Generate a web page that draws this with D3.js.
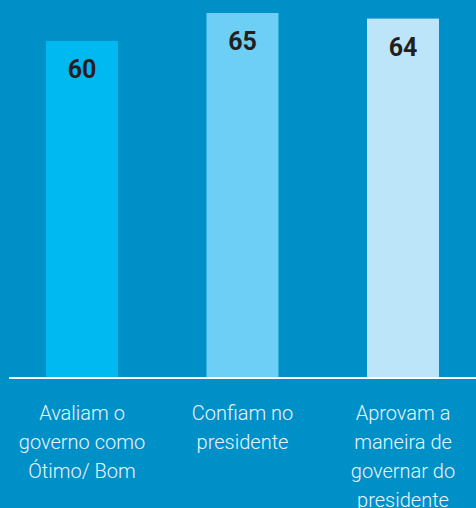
<!DOCTYPE html>
<meta charset="utf-8">
<html>
<head>
<script src="https://d3js.org/d3.v7.min.js" charset="utf-8"></script>
<style>
body { margin: 0; background: #0090c8; }
.value { font: bold 25px Roboto, sans-serif; fill: #231f20; }
.label { font: 300 20px Roboto, sans-serif; fill: #e8f5fc; }
</style>
</head>
<body>
<svg width="476" height="508"></svg>
<script>
var categories = [
  ["Avaliam o", "governo como", "Ótimo/ Bom"],
  ["Confiam no", "presidente"],
  ["Aprovam a", "maneira de", "governar do", "presidente"]
];
var values = [60, 65, 64];
var colors = ["#00b9f1", "#6dcff6", "#bce5f9"];

var svg = d3.select("svg");
svg.append("rect").attr("width", 476).attr("height", 508).attr("fill", "#0090c8");

var x = d3.scalePoint()
    .domain(d3.range(values.length))
    .range([82, 403]);

var y = d3.scaleLinear()
    .domain([0, 60])
    .range([377, 41]);

var barW = 72;

var bar = svg.selectAll(".bar")
  .data(values)
  .enter().append("g")
    .attr("class", "bar");

bar.append("rect")
    .attr("x", function(d, i) { return x(i) - barW / 2; })
    .attr("y", function(d) { return y(d); })
    .attr("width", barW)
    .attr("height", function(d) { return y(0) - y(d); })
    .attr("fill", function(d, i) { return colors[i]; });

bar.append("text")
    .attr("class", "value")
    .attr("text-anchor", "middle")
    .attr("x", function(d, i) { return x(i); })
    .attr("y", function(d) { return y(d) + 37; })
    .text(function(d) { return d; });

// baseline
svg.append("line")
    .attr("x1", 9).attr("x2", 476)
    .attr("y1", y(0) + 1).attr("y2", y(0) + 1)
    .attr("stroke", "#fff")
    .attr("stroke-width", 2);

var lab = svg.selectAll(".label")
  .data(categories)
  .enter().append("text")
    .attr("class", "label")
    .attr("text-anchor", "middle")
    .attr("y", 420);

lab.selectAll("tspan")
  .data(function(d, i) { return d.map(function(t) { return {t: t, i: i}; }); })
  .enter().append("tspan")
    .attr("x", function(d) { return x(d.i); })
    .attr("dy", function(d, j) { return j ? 29 : 0; })
    .text(function(d) { return d.t; });
</script>
</body>
</html>
